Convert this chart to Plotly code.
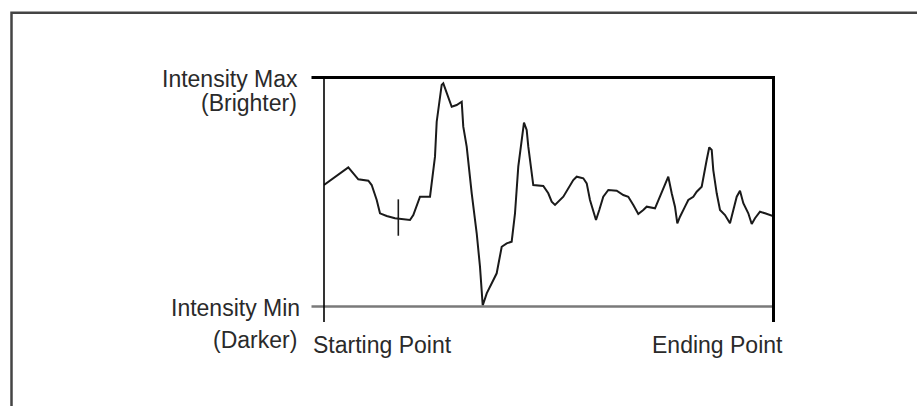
import plotly.graph_objects as go

# Position along the line (0 = starting point, 100 = ending point)
position = [0, 5.41, 7.64, 9.87, 10.62, 11.74, 12.47, 13.96, 15.81, 19.15, 19.89, 21.38, 23.61,
            24.72, 25.10, 25.46, 26.21, 26.57, 27.68, 28.44, 29.55, 30.67, 31.02, 31.78, 32.90,
            34.01, 34.74, 35.35, 36.24, 37.35, 38.46, 39.58, 40.69, 41.80, 42.54, 43.27, 44.03,
            44.54, 45.14, 45.50, 46.61, 48.84, 49.95, 50.71, 51.45, 53.30, 55.52, 56.28, 57.75,
            58.51, 59.24, 59.98, 60.58, 61.31, 62.20, 63.32, 65.19, 66.66, 67.77, 68.89, 70.00,
            71.11, 71.87, 73.72, 74.45, 75.57, 76.68, 77.44, 78.17, 78.69, 79.29, 80.40, 81.14,
            82.25, 83.01, 84.12, 84.63, 85.23, 85.81, 86.35, 86.70, 87.46, 88.20, 89.31, 90.42,
            91.16, 91.92, 92.65, 93.39, 94.50, 95.26, 95.99, 97.10, 98.22, 100.0]
# Pixel intensity (0 = min / darker, 255 = max / brighter)
intensity = [134.7, 154.4, 141.1, 139.5, 134.7, 118.0, 103.2, 100.2, 97.7, 95.8, 101.3, 121.7, 121.7,
             166.3, 205.2, 220.1, 246.1, 248.0, 233.1, 221.9, 223.8, 227.5, 199.7, 177.4, 125.5,
             81.0, 43.8, 0.5, 14.1, 25.3, 36.4, 66.0, 69.8, 71.6, 103.2, 155.1, 188.5,
             204.1, 196.0, 177.4, 134.7, 133.6, 125.5, 116.1, 112.5, 121.7, 140.3, 144.0, 142.2,
             136.6, 118.0, 105.0, 95.8, 106.9, 121.7, 129.2, 128.4, 123.6, 121.7, 112.5, 102.4,
             106.9, 110.6, 108.8, 118.0, 131.1, 144.0, 125.5, 110.6, 92.1, 99.4, 110.6, 118.0,
             121.7, 127.3, 132.8, 147.8, 162.6, 176.7, 173.7, 151.4, 125.5, 106.9, 101.3, 92.1,
             106.9, 121.7, 128.4, 114.4, 103.2, 91.3, 97.7, 105.0, 103.2, 100.2]

# Cursor mark on the profile
cursor_position = [16.55]
cursor_intensity = [98.5]

# Axis texts
y_max_label = ["Intensity Max", "(Brighter)"]
y_min_label = ["Intensity Min", "(Darker)"]
x_start_label = "Starting Point"
x_end_label = "Ending Point"

W, H = 917, 406
L, R, T, B = 324, 773, 77, 306
pw, ph = R - L, B - T


def px(x):
    return (x - L) / pw


def py(y):
    return (B - y) / ph


fig = go.Figure()
fig.add_trace(go.Scatter(x=position, y=intensity, mode="lines",
                         line=dict(color="#1a1a1a", width=2), hoverinfo="skip", showlegend=False))
fig.add_trace(go.Scatter(x=cursor_position, y=cursor_intensity, mode="markers",
                         marker=dict(symbol="line-ns", size=26, line=dict(color="#1a1a1a", width=1.6)),
                         hoverinfo="skip", showlegend=False))

shapes = [
    # outer border
    dict(type="rect", xref="paper", yref="paper", x0=px(11.5), x1=px(940), y0=py(430), y1=py(12.7),
         line=dict(color="#444444", width=2.5), fillcolor="rgba(0,0,0,0)", layer="below"),
    # top line (max)
    dict(type="line", xref="paper", yref="paper", x0=px(311.5), x1=px(774.5), y0=py(77.5), y1=py(77.5),
         line=dict(color="#000000", width=3)),
    # bottom line (min)
    dict(type="line", xref="paper", yref="paper", x0=px(311.5), x1=px(773), y0=py(306.5), y1=py(306.5),
         line=dict(color="#7a7a7a", width=2.5)),
    # left line
    dict(type="line", xref="paper", yref="paper", x0=px(324), x1=px(324), y0=py(322), y1=py(77),
         line=dict(color="#000000", width=1.6)),
    # right line
    dict(type="line", xref="paper", yref="paper", x0=px(773.5), x1=px(773.5), y0=py(322), y1=py(76),
         line=dict(color="#000000", width=3)),
]

font = dict(family="Liberation Sans, Arial, sans-serif", size=23, color="#2a2a2a")
annotations = [
    dict(text=y_max_label[0], x=px(299), y=py(79), xanchor="right", yanchor="middle"),
    dict(text=y_max_label[1], x=px(298), y=py(103), xanchor="right", yanchor="middle"),
    dict(text=y_min_label[0], x=px(301), y=py(308), xanchor="right", yanchor="middle"),
    dict(text=y_min_label[1], x=px(298), y=py(340), xanchor="right", yanchor="middle"),
    dict(text=x_start_label, x=px(312), y=py(345), xanchor="left", yanchor="middle"),
    dict(text=x_end_label, x=px(784), y=py(345), xanchor="right", yanchor="middle"),
]
for a in annotations:
    a.update(xref="paper", yref="paper", showarrow=False, font=font, borderpad=0)

fig.update_layout(
    width=W, height=H,
    margin=dict(l=L, r=W - R, t=T, b=H - B, pad=0),
    paper_bgcolor="white", plot_bgcolor="white",
    xaxis=dict(range=[0, 100], visible=False, fixedrange=True),
    yaxis=dict(range=[0, 255], visible=False, fixedrange=True),
    shapes=shapes, annotations=annotations, showlegend=False,
)

fig.write_html("out.html", config={"displayModeBar": False},
               post_script="document.body.style.margin='0';document.body.style.overflow='hidden';")
